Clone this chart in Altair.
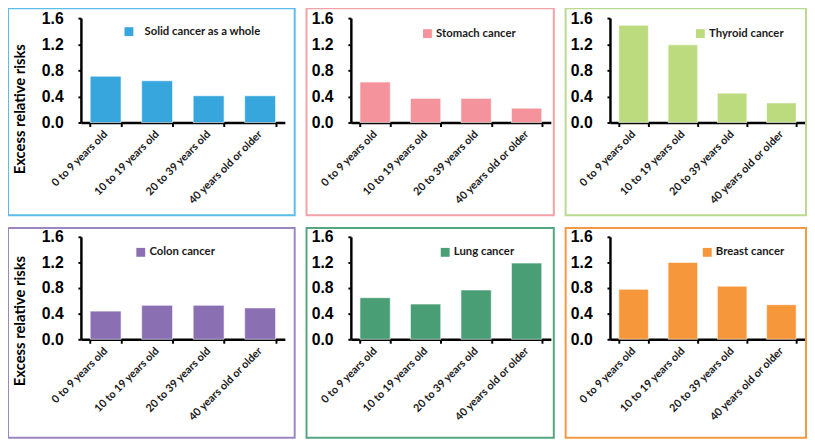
import altair as alt
import pandas as pd

ages = ["0 to 9 years old", "10 to 19 years old", "20 to 39 years old", "40 years old or older"]
names = ["Solid cancer as a whole", "Stomach cancer", "Thyroid cancer",
         "Colon cancer", "Lung cancer", "Breast cancer"]
solid = [0.71, 0.64, 0.41, 0.41]
stomach = [0.62, 0.37, 0.37, 0.22]
thyroid = [1.49, 1.19, 0.45, 0.30]
colon = [0.44, 0.53, 0.53, 0.49]
lung = [0.65, 0.55, 0.77, 1.19]
breast = [0.78, 1.20, 0.83, 0.54]
series = [solid, stomach, thyroid, colon, lung, breast]
y_ticks = [0, 0.4, 0.8, 1.2, 1.6]

bar_colors = ["#37a6dd", "#f4939b", "#bbdb7e", "#8a6fb3", "#4a9e75", "#f6973b"]
border_colors = ["#5cbde9", "#f2a2a6", "#b9d98f", "#9b86c2", "#56a581", "#f29a42"]

# layout per panel: (width, height, legendX, legendY, labelOffset, rect left, rect right pad, rect top, rect bottom)
layout = [
    (207, 106, 43, 8, 10, -74, 10, -10, 200),
    (203, 106, 72, 10, 3, -45, 3, -10, 200),
    (198, 106, 86, 10, 3, -45, 1, -10, 200),
    (207, 104, 55, 10, 3, -74, 10, -9, 204),
    (203, 104, 90, 10, 3, -45, 3, -9, 204),
    (198, 104, 93, 10, 3, -45, 1, -9, 204),
]


def panel(i):
    w, h, lx, ly, lo, rl, rr, rt, rb = layout[i]
    df = pd.DataFrame({"age": ages, "value": series[i], "cancer": [names[i]] * 4})
    first_col = i % 3 == 0
    yaxis_kwargs = dict(
        values=y_ticks, format=".1f", grid=False, domainColor="black", domainWidth=2.5,
        ticks=True, tickSize=3, tickWidth=2, tickColor="black",
        labelFont="Liberation Sans", labelFontSize=16, labelFontWeight="bold",
        labelColor="black", labelPadding=15,
    )
    if first_col:
        yaxis_kwargs.update(
            title="Excess relative risks", titleFont="Lato", titleFontSize=15,
            titleFontWeight="bold", titleColor="black", titleAngle=270,
            titleX=-62, titleY=92 if i == 0 else 85, titleAlign="center",
            titleBaseline="middle",
        )
    else:
        yaxis_kwargs.update(title=None)
    bars = alt.Chart(df).mark_bar(stroke="#ffffff", strokeOpacity=0.6, strokeWidth=1).encode(
        x=alt.X("age:N", sort=ages,
                scale=alt.Scale(paddingInner=0.4, paddingOuter=0.18),
                axis=alt.Axis(title=None, labelAngle=-45, labelAlign="right",
                              labelBaseline="middle", labelFont="Lato", labelFontSize=11,
                              labelFontWeight="bold", labelColor="#1a1a1a", labelPadding=6,
                              domainColor="black", domainWidth=2.5, tickBand="extent",
                              ticks=True, tickSize=4, tickWidth=2, tickColor="black")),
        y=alt.Y("value:Q", scale=alt.Scale(domain=[0, 1.6], nice=False),
                axis=alt.Axis(**yaxis_kwargs)),
        color=alt.Color("cancer:N", scale=alt.Scale(range=[bar_colors[i]]),
                        legend=alt.Legend(title=None, orient="none", legendX=lx, legendY=ly,
                                          symbolType="square", symbolSize=81,
                                          symbolStrokeWidth=0, labelFont="Lato",
                                          labelFontSize=11.5, labelFontWeight="bold",
                                          labelColor="#1a1a1a", labelOffset=lo, padding=0)),
    )
    border = alt.Chart(pd.DataFrame({"k": [0]})).mark_rect(
        filled=False, stroke=border_colors[i], strokeWidth=2
    ).encode(
        x=alt.value(rl), x2=alt.value(w + rr), y=alt.value(rt), y2=alt.value(rb)
    )
    return alt.layer(border, bars).properties(width=w, height=h)


row1 = alt.hconcat(panel(0), panel(1), panel(2), spacing=10).resolve_scale(
    color="independent", x="independent", y="independent").resolve_legend(color="independent")
row2 = alt.hconcat(panel(3), panel(4), panel(5), spacing=10).resolve_scale(
    color="independent", x="independent", y="independent").resolve_legend(color="independent")
chart = alt.vconcat(row1, row2, spacing=11).resolve_scale(
    color="independent", x="independent", y="independent").resolve_legend(
    color="independent").properties(
    padding={"left": -1, "top": -4, "right": 0, "bottom": 0}, background="white"
).configure_view(stroke=None)

chart.save("out.html", embed_options={"renderer": "svg", "actions": False})
